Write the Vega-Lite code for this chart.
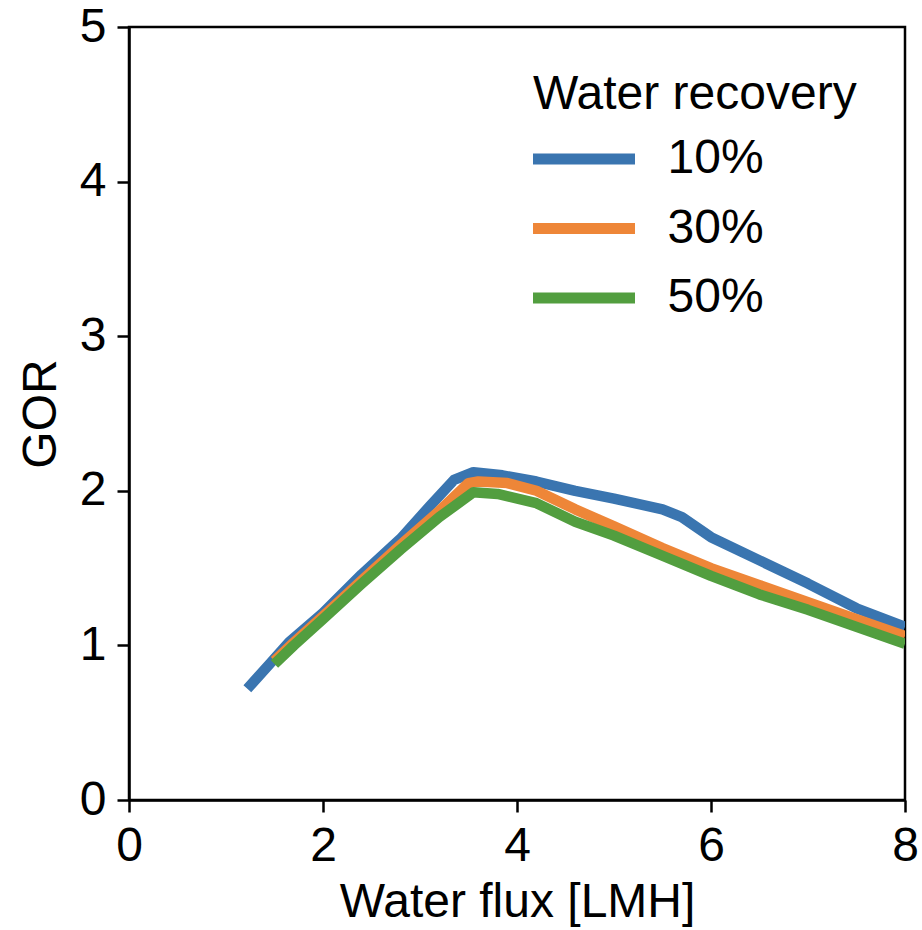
{
  "$schema": "https://vega.github.io/schema/vega-lite/v6.json",
  "width": 776,
  "height": 773,
  "autosize": "none",
  "padding": {"left": 129, "top": 27, "right": 17, "bottom": 130},
  "background": "white",
  "config": {
    "font": "Liberation Sans",
    "view": {"stroke": "black", "strokeWidth": 2.5},
    "axis": {
      "grid": false,
      "domainColor": "black",
      "domainWidth": 2.5,
      "tickColor": "black",
      "tickWidth": 2.5,
      "tickSize": 12,
      "labelColor": "black",
      "titleColor": "black",
      "labelFontSize": 48,
      "titleFontSize": 48,
      "titleFontWeight": "normal",
      "labelFlush": false,
      "labelOverlap": false
    }
  },
  "data": {
    "values": [
      {"flux": 1.22, "gor": 0.72, "rec": "10%"},
      {"flux": 1.45, "gor": 0.88, "rec": "10%"},
      {"flux": 1.65, "gor": 1.02, "rec": "10%"},
      {"flux": 2.0, "gor": 1.21, "rec": "10%"},
      {"flux": 2.4, "gor": 1.46, "rec": "10%"},
      {"flux": 2.8, "gor": 1.69, "rec": "10%"},
      {"flux": 3.1, "gor": 1.9, "rec": "10%"},
      {"flux": 3.35, "gor": 2.07, "rec": "10%"},
      {"flux": 3.55, "gor": 2.12, "rec": "10%"},
      {"flux": 3.85, "gor": 2.1, "rec": "10%"},
      {"flux": 4.2, "gor": 2.06, "rec": "10%"},
      {"flux": 4.6, "gor": 2.0, "rec": "10%"},
      {"flux": 5.0, "gor": 1.95, "rec": "10%"},
      {"flux": 5.5, "gor": 1.88, "rec": "10%"},
      {"flux": 5.7, "gor": 1.83, "rec": "10%"},
      {"flux": 6.0, "gor": 1.7, "rec": "10%"},
      {"flux": 6.5, "gor": 1.55, "rec": "10%"},
      {"flux": 7.0, "gor": 1.4, "rec": "10%"},
      {"flux": 7.5, "gor": 1.24, "rec": "10%"},
      {"flux": 8.0, "gor": 1.12, "rec": "10%"},

      {"flux": 1.5, "gor": 0.9, "rec": "30%"},
      {"flux": 1.7, "gor": 1.02, "rec": "30%"},
      {"flux": 2.0, "gor": 1.19, "rec": "30%"},
      {"flux": 2.4, "gor": 1.42, "rec": "30%"},
      {"flux": 2.8, "gor": 1.65, "rec": "30%"},
      {"flux": 3.2, "gor": 1.87, "rec": "30%"},
      {"flux": 3.5, "gor": 2.05, "rec": "30%"},
      {"flux": 3.6, "gor": 2.06, "rec": "30%"},
      {"flux": 3.9, "gor": 2.05, "rec": "30%"},
      {"flux": 4.2, "gor": 2.0, "rec": "30%"},
      {"flux": 4.6, "gor": 1.88, "rec": "30%"},
      {"flux": 5.0, "gor": 1.77, "rec": "30%"},
      {"flux": 5.5, "gor": 1.63, "rec": "30%"},
      {"flux": 6.0, "gor": 1.5, "rec": "30%"},
      {"flux": 6.5, "gor": 1.39, "rec": "30%"},
      {"flux": 7.0, "gor": 1.28, "rec": "30%"},
      {"flux": 7.5, "gor": 1.17, "rec": "30%"},
      {"flux": 8.0, "gor": 1.06, "rec": "30%"},

      {"flux": 1.5, "gor": 0.88, "rec": "50%"},
      {"flux": 1.7, "gor": 1.0, "rec": "50%"},
      {"flux": 2.0, "gor": 1.17, "rec": "50%"},
      {"flux": 2.4, "gor": 1.4, "rec": "50%"},
      {"flux": 2.8, "gor": 1.62, "rec": "50%"},
      {"flux": 3.2, "gor": 1.83, "rec": "50%"},
      {"flux": 3.55, "gor": 1.99, "rec": "50%"},
      {"flux": 3.8, "gor": 1.98, "rec": "50%"},
      {"flux": 4.2, "gor": 1.92, "rec": "50%"},
      {"flux": 4.6, "gor": 1.8, "rec": "50%"},
      {"flux": 5.0, "gor": 1.71, "rec": "50%"},
      {"flux": 5.5, "gor": 1.58, "rec": "50%"},
      {"flux": 6.0, "gor": 1.45, "rec": "50%"},
      {"flux": 6.5, "gor": 1.33, "rec": "50%"},
      {"flux": 7.0, "gor": 1.23, "rec": "50%"},
      {"flux": 7.5, "gor": 1.12, "rec": "50%"},
      {"flux": 8.0, "gor": 1.01, "rec": "50%"}
    ]
  },
  "mark": {"type": "line", "strokeWidth": 10.5, "strokeCap": "butt", "strokeJoin": "round", "clip": true},
  "encoding": {
    "x": {
      "field": "flux",
      "type": "quantitative",
      "scale": {"domain": [0, 8], "nice": false},
      "axis": {"values": [0, 2, 4, 6, 8], "format": "d", "title": "Water flux [LMH]", "labelBaseline": "top", "labelPadding": 10, "titlePadding": 8}
    },
    "y": {
      "field": "gor",
      "type": "quantitative",
      "scale": {"domain": [0, 5], "nice": false},
      "axis": {"values": [0, 1, 2, 3, 4, 5], "format": "d", "title": "GOR", "labelPadding": 11, "titlePadding": 14}
    },
    "color": {
      "field": "rec",
      "type": "nominal",
      "scale": {"domain": ["10%", "30%", "50%"], "range": ["#3a75b0", "#ee8638", "#529e3f"]},
      "legend": {
        "orient": "none",
        "legendX": 404,
        "legendY": 44,
        "padding": 0,
        "title": "Water recovery",
        "titleLimit": 1000,
        "titleFontSize": 48,
        "titleFontWeight": "normal",
        "titleColor": "black",
        "titlePadding": 16,
        "labelFontSize": 48,
        "labelColor": "black",
        "labelOffset": 27,
        "symbolOffset": -11.5,
        "symbolType": "stroke",
        "symbolSize": 11664,
        "symbolStrokeWidth": 11,
        "clipHeight": 48,
        "rowPadding": 21.5
      }
    }
  }
}
